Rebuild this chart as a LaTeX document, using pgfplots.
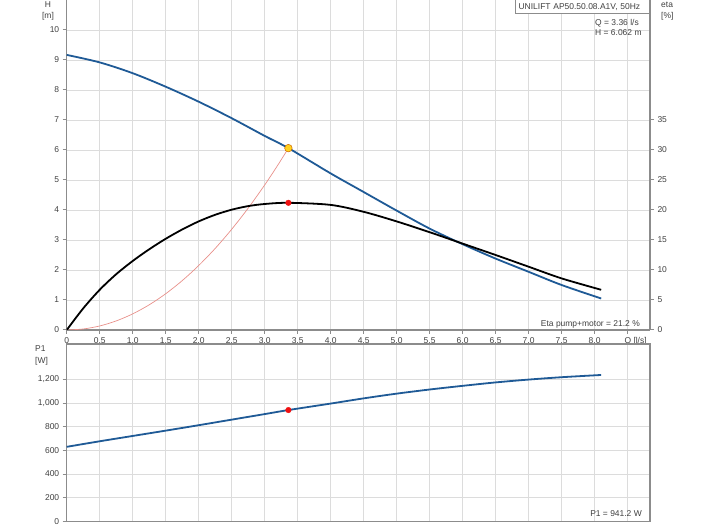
\documentclass[border=0pt]{standalone}
\usepackage{fontspec}
\setmainfont{Liberation Sans}
\usepackage{pgfplots}
\pgfplotsset{compat=1.18}

\definecolor{hblue}{HTML}{1F5A96}
\definecolor{gridc}{HTML}{DCDCDC}
\definecolor{axc}{HTML}{8C8C8C}
\definecolor{txt}{HTML}{404040}
\definecolor{sysred}{HTML}{E8908A}
\definecolor{opyel}{HTML}{FFD21F}
\definecolor{opred}{HTML}{F01010}

\pgfplotsset{
  pump/.style={
    scale only axis,
    width=583.3bp,
    xmin=0, xmax=8.84,
    xtick={0,0.5,1,1.5,2,2.5,3,3.5,4,4.5,5,5.5,6,6.5,7,7.5,8,8.5},
    grid=major,
    major grid style={gridc, line width=0.8bp},
    axis line style={axc, line width=1.2bp},
    tick style={axc, line width=1bp},
    tick align=outside,
    major tick length=4bp,
    tick label style={font=\fontsize{8.5}{10}\selectfont, text=txt},
    /pgf/number format/assume math mode=true,
    /pgf/number format/1000 sep={,},
  },
}

\begin{document}
\begin{tikzpicture}
\path[use as bounding box] (0,0) rectangle (704bp,528bp);

% --- upper panel: head and efficiency ---
\begin{axis}[pump,
    at={(66.7bp,198bp)}, anchor=south west,
    height=330bp,
    ymin=0, ymax=11,
    ytick={0,1,...,10},
    axis x line*=bottom, axis y line*=left,
    xticklabels={0,0.5,1.0,1.5,2.0,2.5,3.0,3.5,4.0,4.5,5.0,5.5,6.0,6.5,7.0,7.5,8.0,{\makebox[0pt][l]{\hspace*{-3bp}Q [l/s]}}},
  ]
  % system curve
  \addplot[sysred, line width=0.7bp, smooth] coordinates {
    (0,0) (0.25,0.034) (0.5,0.134) (0.75,0.302) (1.0,0.537) (1.25,0.839)
    (1.5,1.208) (1.75,1.644) (2.0,2.148) (2.25,2.718) (2.5,3.356)
    (2.75,4.061) (3.0,4.833) (3.2,5.498) (3.36,6.062)
  };
  % pump curve H
  \addplot[hblue, line width=1.8bp, smooth] coordinates {
    (0,9.17) (0.5,8.92) (1.0,8.56) (1.5,8.11) (2.0,7.61) (2.5,7.06)
    (3.0,6.47) (3.36,6.062) (4.0,5.22) (4.5,4.60) (5.0,3.98) (5.5,3.38)
    (6.0,2.86) (6.5,2.38) (7.0,1.94) (7.5,1.50) (8.1,1.05)
  };
  \addplot[only marks, mark=*, mark size=3.8bp, mark options={fill=opyel, draw=orange!80!black, line width=0.5bp}]
    coordinates {(3.36,6.062)};
\end{axis}

% --- upper panel: eta axis on the right ---
\begin{axis}[pump,
    at={(66.7bp,198bp)}, anchor=south west,
    height=330bp,
    ymin=0, ymax=55,
    ytick={0,5,...,35},
    grid=none,
    axis x line=none, axis y line*=right,
  ]
  \addplot[black, line width=1.8bp, smooth] coordinates {
    (0,0) (0.25,3.6) (0.5,6.7) (0.75,9.3) (1.0,11.5) (1.25,13.45) (1.5,15.2)
    (1.75,16.75) (2.0,18.1) (2.25,19.2) (2.5,20.05) (2.75,20.65) (3.0,21.0)
    (3.36,21.2) (4.0,20.85) (4.5,19.7) (5.0,18.1) (5.5,16.3) (6.0,14.4)
    (6.5,12.5) (7.0,10.55) (7.5,8.6) (8.1,6.7)
  };
  \addplot[only marks, mark=*, mark size=2.8bp, mark options={fill=opred, draw=opred}]
    coordinates {(3.36,21.2)};
\end{axis}

% --- lower panel: power P1 ---
\begin{axis}[pump,
    at={(66.7bp,6.7bp)}, anchor=south west,
    height=177.3bp,
    ymin=0, ymax=1500,
    ytick={0,200,...,1200},
    ytick pos=left,
    xticklabels={},
    xtick style={draw=none},
  ]
  \addplot[hblue, line width=1.8bp, smooth] coordinates {
    (0,630) (0.5,677) (1.0,722) (1.5,767) (2.0,813) (2.5,860) (3.0,907)
    (3.36,941.2) (4.0,996) (4.5,1040) (5.0,1080) (5.5,1115) (6.0,1146)
    (6.5,1175) (7.0,1199) (7.5,1219) (8.1,1238)
  };
  \addplot[only marks, mark=*, mark size=2.8bp, mark options={fill=opred, draw=opred}]
    coordinates {(3.36,941.2)};
\end{axis}

% --- texts ---
\begin{scope}[every node/.style={font=\fontsize{8.5}{10}\selectfont, text=txt, inner sep=0pt}]
  \node at (48bp,523bp) {H};
  \node at (48bp,512bp) {[m]};
  \node[anchor=west] at (661bp,523bp) {eta};
  \node[anchor=west] at (661bp,512bp) {[\%]};
  \node[draw=axc, fill=white, anchor=north east, text width=128bp, align=left,
        inner xsep=3bp, minimum height=14bp, line width=0.8bp] at (650bp,528.5bp)
        {UNILIFT AP50.50.08.A1V, 50Hz};
  \node[anchor=west] at (595bp,505bp) {Q = 3.36 l/s};
  \node[anchor=west] at (595bp,495bp) {H = 6.062 m};
  \node[anchor=east] at (640bp,204bp) {Eta pump+motor = 21.2 \%};
  \node[anchor=west] at (35bp,179bp) {P1};
  \node[anchor=west] at (35bp,167bp) {[W]};
  \node[anchor=east] at (642bp,14bp) {P1 = 941.2 W};
\end{scope}
\end{tikzpicture}
\end{document}
